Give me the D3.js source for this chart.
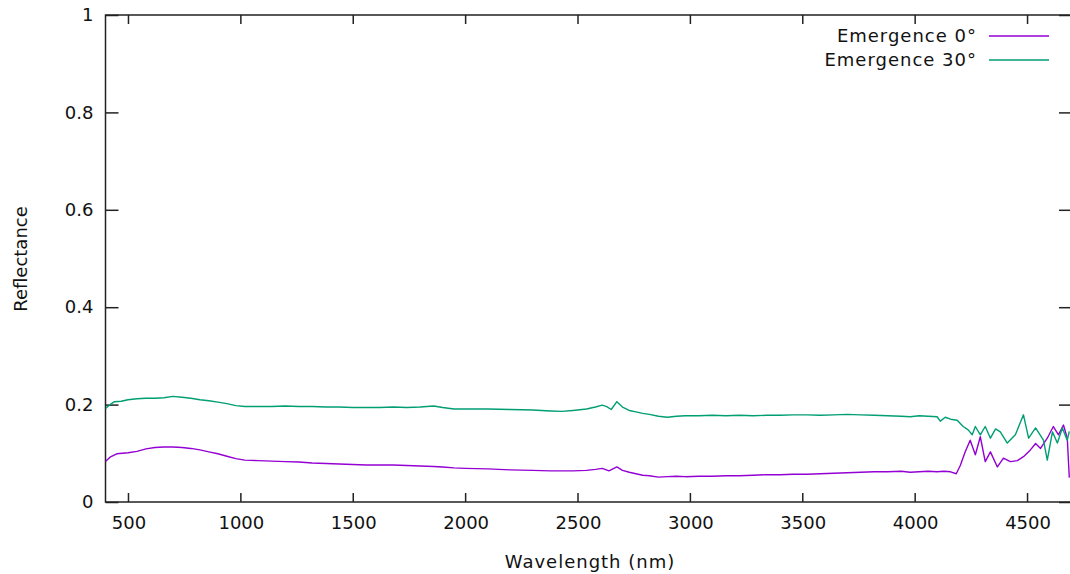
<!DOCTYPE html>
<html lang="en">
<head>
    <meta charset="UTF-8">
    <title>Reflectance vs wavelength</title>
    <script src="https://d3js.org/d3.v7.min.js"></script>
    <style>
        body {
            margin: 0;
            background: #fff;
        }

        text {
            font-family: "DejaVu Sans", Verdana, sans-serif;
            font-size: 18px;
            fill: #111;
        }

        .label {
            letter-spacing: 1px;
        }

        .frame {
            fill: none;
            stroke: #222;
            stroke-width: 1.5px;
        }

        .tick line {
            stroke: #222;
            stroke-width: 1.5px;
        }
    </style>
</head>
<body>
<script>
    // wavelengths (nm) and reflectance
    const wl0 = [400, 420, 450, 500, 540, 580, 620, 660, 700, 740, 780, 820, 860, 900, 940, 980, 1020, 1080, 1140,
        1200, 1260, 1320, 1380, 1440, 1500, 1560, 1620, 1680, 1740, 1800, 1860, 1900, 1950, 2000, 2100, 2200, 2300,
        2380, 2430, 2480, 2540, 2580, 2610, 2640, 2675, 2700, 2730, 2760, 2790, 2820, 2860, 2900, 2940, 2980, 3040,
        3100, 3160, 3220, 3280, 3340, 3400, 3460, 3520, 3580, 3640, 3700, 3760, 3820, 3880, 3940, 3980, 4020, 4060,
        4100, 4130, 4160, 4185, 4203, 4225, 4247, 4270, 4292, 4314, 4337, 4368, 4395, 4426, 4457, 4484, 4515, 4538,
        4560, 4590, 4617, 4640, 4662, 4679, 4688];
    const refl0 = [0.083, 0.092, 0.099, 0.101, 0.104, 0.109, 0.112, 0.113, 0.113, 0.112, 0.110, 0.107, 0.103, 0.099,
        0.094, 0.089, 0.086, 0.085, 0.084, 0.083, 0.082, 0.080, 0.079, 0.078, 0.077, 0.076, 0.076, 0.076, 0.075,
        0.074, 0.073, 0.072, 0.070, 0.069, 0.068, 0.066, 0.065, 0.064, 0.064, 0.064, 0.065, 0.067, 0.069, 0.064,
        0.072, 0.065, 0.061, 0.058, 0.055, 0.054, 0.051, 0.052, 0.053, 0.052, 0.053, 0.053, 0.054, 0.054, 0.055,
        0.056, 0.056, 0.057, 0.057, 0.058, 0.059, 0.060, 0.061, 0.062, 0.062, 0.063, 0.061, 0.062, 0.063, 0.062,
        0.063, 0.062, 0.058, 0.075, 0.103, 0.127, 0.097, 0.134, 0.083, 0.103, 0.072, 0.090, 0.083, 0.085, 0.093,
        0.107, 0.120, 0.110, 0.131, 0.155, 0.138, 0.158, 0.131, 0.050];

    const wl30 = [400, 420, 440, 470, 500, 540, 580, 620, 660, 700, 740, 780, 820, 860, 900, 940, 980, 1020, 1080,
        1140, 1200, 1260, 1320, 1380, 1440, 1500, 1560, 1620, 1680, 1740, 1800, 1860, 1900, 1950, 2000, 2100, 2200,
        2300, 2380, 2430, 2480, 2540, 2580, 2610, 2630, 2650, 2675, 2700, 2730, 2760, 2790, 2820, 2860, 2900, 2940,
        2980, 3040, 3100, 3160, 3220, 3280, 3340, 3400, 3460, 3520, 3580, 3640, 3700, 3760, 3820, 3880, 3940, 3980,
        4020, 4060, 4100, 4114, 4136, 4160, 4189, 4216, 4238, 4256, 4270, 4292, 4314, 4337, 4360, 4381, 4412, 4448,
        4484, 4507, 4538, 4573, 4590, 4613, 4635, 4657, 4679, 4688];
    const refl30 = [0.192, 0.200, 0.206, 0.207, 0.210, 0.212, 0.213, 0.213, 0.214, 0.217, 0.215, 0.213, 0.210, 0.208,
        0.205, 0.202, 0.198, 0.196, 0.196, 0.196, 0.197, 0.196, 0.196, 0.195, 0.195, 0.194, 0.194, 0.194, 0.195,
        0.194, 0.195, 0.197, 0.194, 0.191, 0.191, 0.191, 0.190, 0.189, 0.187, 0.186, 0.188, 0.191, 0.195, 0.199,
        0.196, 0.190, 0.206, 0.195, 0.188, 0.185, 0.182, 0.180, 0.176, 0.174, 0.176, 0.177, 0.177, 0.178, 0.177,
        0.178, 0.177, 0.178, 0.178, 0.179, 0.179, 0.178, 0.179, 0.180, 0.179, 0.178, 0.177, 0.176, 0.175, 0.177,
        0.176, 0.175, 0.166, 0.174, 0.170, 0.168, 0.155, 0.148, 0.138, 0.155, 0.138, 0.155, 0.131, 0.150, 0.144,
        0.121, 0.138, 0.179, 0.131, 0.152, 0.127, 0.086, 0.144, 0.121, 0.152, 0.127, 0.145];

    const seriesNames = ["Emergence 0°", "Emergence 30°"];
    const seriesColors = ["#9400d3", "#009e73"];
    const xTicks = [500, 1000, 1500, 2000, 2500, 3000, 3500, 4000, 4500];
    const yTicks = [0, 0.2, 0.4, 0.6, 0.8, 1];

    // basic sizes
    const width = 1070;
    const height = 574;
    const plot = {left: 105.5, top: 15, right: 1072, bottom: 502};

    const x = d3.scaleLinear().domain([400, 4700]).range([plot.left, plot.right]);
    const y = d3.scaleLinear().domain([0, 1]).range([plot.bottom, plot.top]);

    const svg = d3.select("body").append("svg").attr("width", width).attr("height", height);

    svg.append("clipPath").attr("id", "clip")
        .append("rect")
        .attr("x", plot.left).attr("y", plot.top)
        .attr("width", plot.right - plot.left).attr("height", plot.bottom - plot.top);

    // axes: ticks point inwards, mirrored on top / right
    const bottomAxis = svg.append("g").attr("transform", "translate(0," + plot.bottom + ")")
        .call(d3.axisBottom(x).tickValues(xTicks).tickSize(-9).tickPadding(14).tickFormat(d3.format("d")));
    svg.append("g").attr("transform", "translate(0," + plot.top + ")")
        .call(d3.axisTop(x).tickValues(xTicks).tickSize(-9).tickFormat(""));
    const leftAxis = svg.append("g").attr("transform", "translate(" + plot.left + ",0)")
        .call(d3.axisLeft(y).tickValues(yTicks).tickSize(-13).tickPadding(12).tickFormat(d3.format("")));
    svg.append("g").attr("transform", "translate(" + plot.right + ",0)")
        .call(d3.axisRight(y).tickValues(yTicks).tickSize(-13).tickFormat(""));

    svg.selectAll(".domain").remove();
    bottomAxis.selectAll("text").attr("dy", "0.71em").attr("dx", "0.5px");
    svg.selectAll("g").attr("font-size", null).attr("font-family", null);

    // frame
    svg.append("rect").attr("class", "frame")
        .attr("x", plot.left).attr("y", plot.top)
        .attr("width", plot.right - plot.left).attr("height", plot.bottom - plot.top);

    // curves
    const line = d3.line()
        .x(d => x(d[0]))
        .y(d => y(d[1]));

    const series = [
        d3.zip(wl0, refl0),
        d3.zip(wl30, refl30)
    ];

    svg.append("g").attr("clip-path", "url(#clip)")
        .selectAll("path")
        .data(series)
        .enter()
        .append("path")
        .attr("fill", "none")
        .attr("stroke", (d, i) => seriesColors[i])
        .attr("stroke-width", 1.4)
        .attr("stroke-linejoin", "round")
        .attr("d", line);

    // legend
    const legend = svg.append("g").selectAll("g")
        .data(seriesNames)
        .enter()
        .append("g")
        .attr("transform", (d, i) => "translate(0," + (36 + i * 24) + ")");
    legend.append("text")
        .attr("class", "label")
        .attr("x", 977)
        .attr("dy", "0.36em")
        .attr("text-anchor", "end")
        .text(d => d);
    legend.append("line")
        .attr("x1", 989).attr("x2", 1049)
        .attr("stroke", (d, i) => seriesColors[i])
        .attr("stroke-width", 1.4);

    // axis titles
    svg.append("text")
        .attr("class", "label")
        .attr("x", 590).attr("y", 562)
        .attr("dy", "0.36em")
        .attr("text-anchor", "middle")
        .text("Wavelength (nm)");
    svg.append("text")
        .attr("transform", "translate(21,259) rotate(-90)")
        .attr("dy", "0.36em")
        .attr("text-anchor", "middle")
        .text("Reflectance");
</script>
</body>
</html>
